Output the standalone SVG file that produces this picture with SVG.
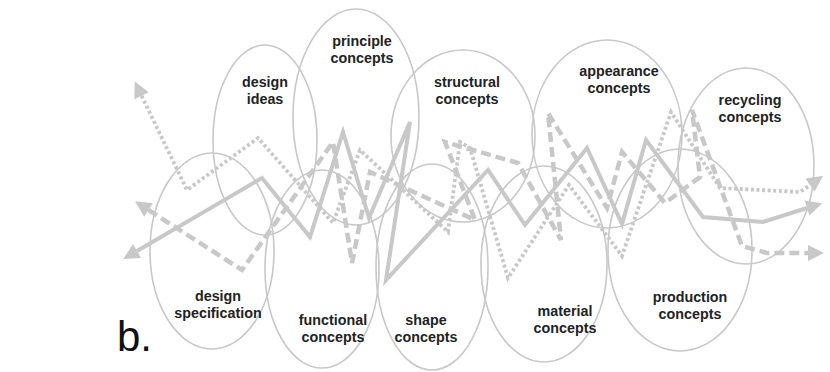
<svg xmlns="http://www.w3.org/2000/svg" width="830" height="372" viewBox="0 0 830 372">
<style>
.ell{fill:none;stroke:#c8c8c8;stroke-width:1.6}
.lbl{font-family:"Liberation Sans",Arial,sans-serif;font-weight:bold;font-size:14.3px;fill:#222;text-anchor:middle}
.ln{fill:none;stroke:#c8c8c8;stroke-linejoin:miter;stroke-linecap:butt}
.solid{stroke-width:4}
.dash{stroke-width:4.5;stroke-dasharray:10 5}
.dot{stroke-width:3.8;stroke-dasharray:3 2.6}
</style>
<defs>
<marker id="ah" viewBox="0 0 10 10" refX="0" refY="5" markerUnits="userSpaceOnUse" markerWidth="23" markerHeight="16" orient="auto-start-reverse">
<path d="M0,0 L10,5 L0,10 z" fill="#c8c8c8"/>
</marker>
</defs>
<rect width="830" height="372" fill="#fff"/>
<g id="design-ideas"><ellipse class="ell" cx="265" cy="140" rx="52" ry="95"/><text class="lbl" x="265" y="87">design</text><text class="lbl" x="265" y="104">ideas</text></g>
<g id="principle-concepts"><ellipse class="ell" cx="356" cy="117" rx="63" ry="108"/><text class="lbl" x="362" y="46">principle</text><text class="lbl" x="362" y="63">concepts</text></g>
<g id="structural-concepts"><ellipse class="ell" cx="463" cy="136" rx="72" ry="86"/><text class="lbl" x="467" y="87">structural</text><text class="lbl" x="467" y="104">concepts</text></g>
<g id="appearance-concepts"><ellipse class="ell" cx="607" cy="134" rx="75" ry="94"/><text class="lbl" x="619" y="76">appearance</text><text class="lbl" x="619" y="93">concepts</text></g>
<g id="recycling-concepts"><ellipse class="ell" cx="746" cy="166" rx="68" ry="98"/><text class="lbl" x="750" y="105">recycling</text><text class="lbl" x="750" y="122">concepts</text></g>
<g id="design-specification"><ellipse class="ell" cx="212" cy="251" rx="62" ry="98"/><text class="lbl" x="218" y="301">design</text><text class="lbl" x="218" y="318">specification</text></g>
<g id="functional-concepts"><ellipse class="ell" cx="322" cy="269" rx="57" ry="99"/><text class="lbl" x="333" y="325">functional</text><text class="lbl" x="333" y="342">concepts</text></g>
<g id="shape-concepts"><ellipse class="ell" cx="432" cy="267" rx="56" ry="103"/><text class="lbl" x="426" y="325">shape</text><text class="lbl" x="426" y="342">concepts</text></g>
<g id="material-concepts"><ellipse class="ell" cx="544" cy="264" rx="63" ry="98"/><text class="lbl" x="565" y="316">material</text><text class="lbl" x="565" y="333">concepts</text></g>
<g id="production-concepts"><ellipse class="ell" cx="680" cy="250" rx="72" ry="101"/><text class="lbl" x="690" y="302">production</text><text class="lbl" x="690" y="319">concepts</text></g>
<g id="connectors">
<path class="ln solid" marker-start="url(#ah)" marker-end="url(#ah)" d="M137,251 L262,178 L310,237 L343,132 L369,218 L410,122 L386,280 L488,170 L525,225 L587,148 L622,224 L646,140 L703,217 L763,222 L807,208"/>
<path class="ln dash" marker-start="url(#ah)" marker-end="url(#ah)" d="M148.5,210 L242,270 L333,142 L352,263 L370,172 L475,220 L445,142 L518,163 L561,240 L548,113 L607,208 L622,152 L665,203 L700,177 L692,110 L742,246 L767,253 L808,253"/>
<path class="ln dot" marker-start="url(#ah)" marker-end="url(#ah)" d="M141.6,95.8 L187,190 L258,138 L333,223 L360,150 L448,232 L460,142 L470,148 L508,278 L569,185 L622,256 L671,112 L720,188 L800,192 L810,185"/>
</g>
<text x="117" y="351" font-family="'Liberation Sans',Arial,sans-serif" font-size="42" fill="#111">b.</text>
</svg>
